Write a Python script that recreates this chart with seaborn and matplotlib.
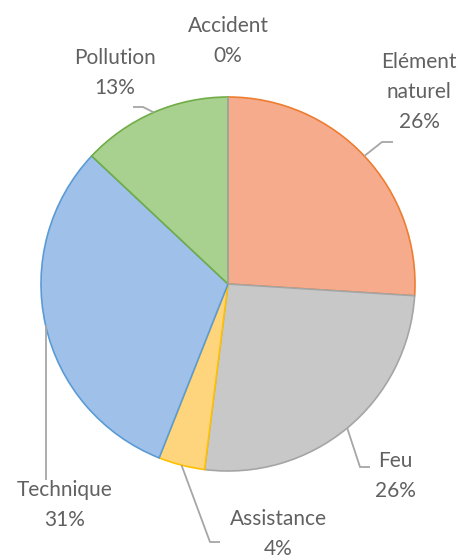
import matplotlib
matplotlib.use("Agg")
import matplotlib.pyplot as plt
import numpy as np
import seaborn as sns

categories = ["Elément naturel", "Feu", "Assistance", "Technique", "Pollution", "Accident"]
label_lines = ["Elément\nnaturel", "Feu", "Assistance", "Technique", "Pollution", "Accident"]
shares = [26, 26, 4, 31, 13, 0]

fill_colors = ["#F6AC8C", "#C8C8C8", "#FED47C", "#9FC1E9", "#A8D08E", "#C9C9C9"]
edge_colors = ["#ED7D31", "#A5A5A5", "#FFC000", "#5B9BD5", "#70AD47", "#A5A5A5"]

sns.set_theme(style="white")
plt.rcParams["font.family"] = ["Lato", "DejaVu Sans"]

W, H = 465, 556
fig = plt.figure(figsize=(W / 100, H / 100), dpi=100)
ax = fig.add_axes([0, 0, 1, 1])

cx, cy, r = 228, H - 284, 187
wedges, _ = ax.pie(shares, colors=fill_colors, startangle=90, counterclock=False,
                   center=(cx, cy), radius=r, frame=True,
                   wedgeprops=dict(linewidth=1.2))
for w, ec in zip(wedges, edge_colors):
    w.set_edgecolor(ec)

ax.set_xlim(0, W)
ax.set_ylim(0, H)
ax.set_aspect("equal")
ax.axis("off")

# label placement in pixel coordinates (y measured from the top)
text_pos = {
    "Elément naturel": (419, 92),
    "Feu": (395, 476),
    "Assistance": (278, 534),
    "Technique": (65, 505),
    "Pollution": (115, 73),
    "Accident": (228, 41),
}
# leader line bends after leaving the slice edge
leader_path = {
    "Elément naturel": [(382, 142), (393, 142)],
    "Feu": [(360, 467), (370, 467)],
    "Assistance": [(210, 542), (220, 542)],
    "Technique": [None],
    "Pollution": [(143, 107), (133, 107)],
}

line_col = "#A6A6A6"
text_col = "#616161"
for w, cat, lab, v in zip(wedges, categories, label_lines, shares):
    tx, ty = text_pos[cat]
    ax.text(tx, H - ty, f"{lab}\n{v}%", ha="center", va="center",
            fontsize=15, color=text_col, linespacing=1.6)
    if v == 0:
        continue
    mid = np.deg2rad((w.theta1 + w.theta2) / 2)
    sx, sy = cx + r * np.cos(mid), cy + r * np.sin(mid)
    xs, ys = [sx], [sy]
    for p in leader_path[cat]:
        if p is None:
            xs.append(sx)
            ys.append(H - 480)
        else:
            xs.append(p[0])
            ys.append(H - p[1])
    ax.plot(xs, ys, color=line_col, lw=1.3, solid_capstyle="butt", zorder=3)

fig.savefig("out.png", dpi=100, facecolor="white")
